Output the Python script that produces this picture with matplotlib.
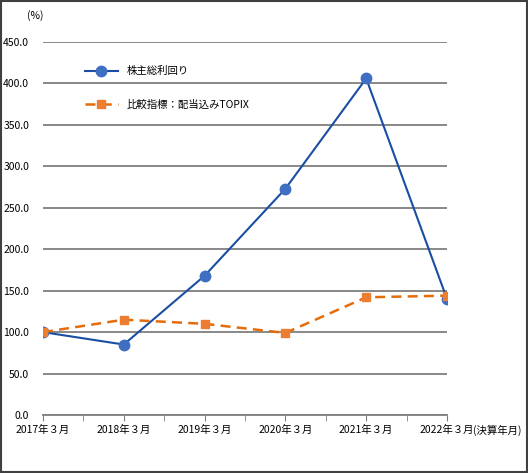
import matplotlib
matplotlib.use("Agg")
import matplotlib.pyplot as plt
from matplotlib.patches import Rectangle
import numpy as np

plt.rcParams['font.family'] = ['Noto Sans CJK JP', 'DejaVu Sans']

years = ["2017年３月", "2018年３月", "2019年３月", "2020年３月", "2021年３月", "2022年３月"]
tsr = [100.0, 85.0, 168.0, 273.0, 406.0, 140.0]
topix = [100.0, 115.0, 110.0, 99.0, 142.0, 144.0]
yticks = [0, 50, 100, 150, 200, 250, 300, 350, 400, 450]

fig = plt.figure(figsize=(5.28, 4.73), dpi=100)
ax = fig.add_axes([43/528, 58/473, 404/528, 373/473])

x = np.arange(len(years))
ax.plot(x, tsr, color="#1A4EA2", lw=1.5, marker="o", ms=7.5,
        mfc="#3F6FC2", mec="#3F6FC2", label="株主総利回り", zorder=3)
ax.plot(x, topix, color="#E46C0A", lw=1.8, ls=(0, (4, 2.5)), marker="s", ms=6,
        mfc="#ED7D31", mec="#ED7D31", label="比較指標：配当込みTOPIX", zorder=4)

ax.set_xlim(0, len(years) - 1)
ax.set_ylim(0, 450)
ax.set_yticks(yticks)
ax.set_yticklabels([f"{v:.1f}" for v in yticks], fontsize=7.5)
ax.yaxis.grid(True, color="#7f7f7f", lw=1.3)
ax.set_axisbelow(True)
ax.tick_params(axis="y", length=0, pad=10)

ax.set_xticks(x)
ax.set_xticklabels(years, fontsize=7.5)
ax.set_xticks(np.arange(0.5, len(years) - 1, 1), minor=True)
ax.tick_params(axis="x", which="both", direction="out", length=4, color="#7f7f7f", pad=3)

for s in ["top", "right", "left"]:
    ax.spines[s].set_visible(False)
ax.spines["bottom"].set_color("#7f7f7f")
ax.spines["bottom"].set_linewidth(1.3)

ax.annotate("(決算年月)", xy=(len(years) - 1, 0), xycoords="data",
            xytext=(18.5, -7), textcoords="offset points", fontsize=7.5,
            ha="left", va="top", annotation_clip=False)
fig.text(27/528, 1 - 16/473, "(%)", fontsize=7.5, va="center")

ax.legend(loc="upper left", bbox_to_anchor=(0.08, 0.96),
          frameon=False, fontsize=7.5, handlelength=3.2, labelspacing=2.2)

fig.patches.append(Rectangle((0.002, 0.002), 0.996, 0.996, transform=fig.transFigure,
                             fill=False, ec="#404040", lw=1.5))

fig.savefig("out.png", dpi=100)
